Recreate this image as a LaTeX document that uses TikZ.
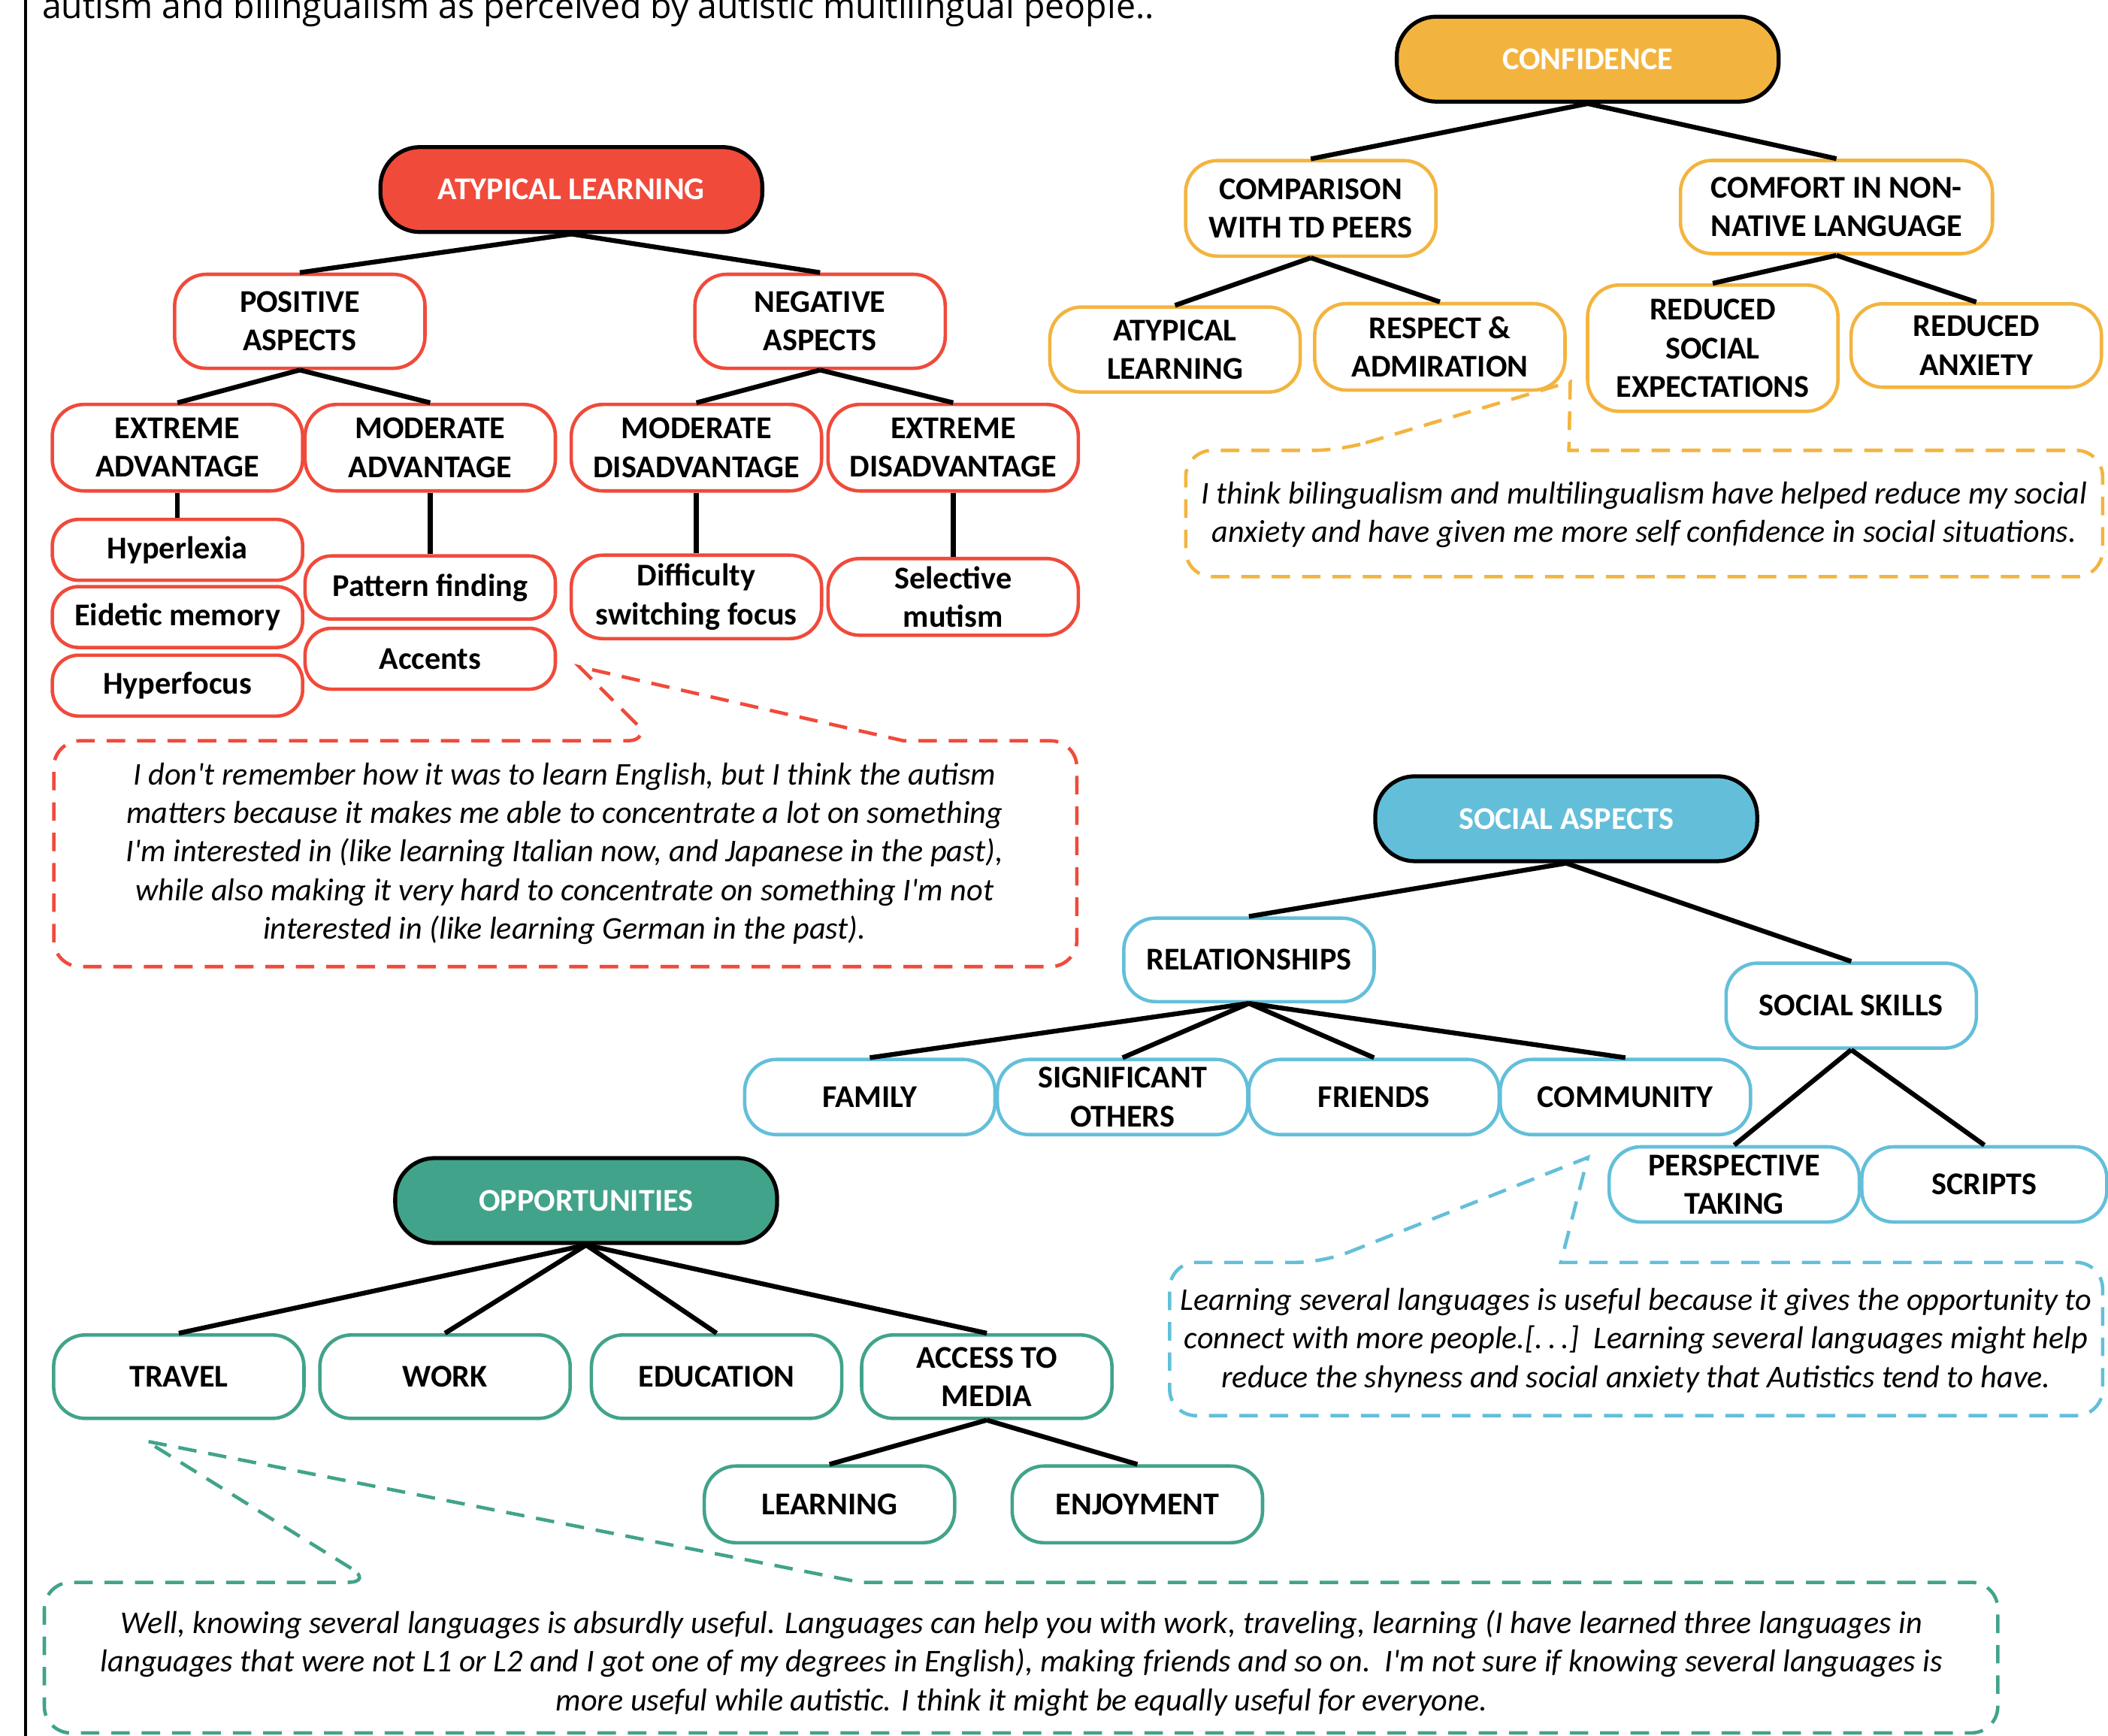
\documentclass[tikz,border=0pt]{standalone}
\usepackage{fontspec}
\setmainfont{Carlito}
\newfontfamily\titlefont{Open Sans}
\newfontfamily\quotefont{Carlito}
\usepackage{tikz}

\definecolor{alred}{RGB}{240,74,59}
\definecolor{cforange}{RGB}{243,180,63}
\definecolor{sablue}{RGB}{99,191,217}
\definecolor{opgreen}{RGB}{65,163,138}

\tikzset{
  root/.style={draw=black, line width=1.5pt, fill=#1, text=white, font=\fontsize{12}{14.6}\selectfont\bfseries,
    rounded corners=15pt, minimum width=5.08cm, minimum height=1.13cm, inner sep=0pt},
  leaf/.style={draw=#1, line width=1.3pt, fill=white, font=\fontsize{12}{14.6}\selectfont\bfseries, align=center,
    rounded corners=12pt, minimum width=3.33cm, minimum height=1.13cm, inner sep=0pt},
  small/.style={minimum height=0.81cm, rounded corners=10pt},
  link/.style={line width=1.8pt},
  quote/.style={font=\quotefont\fontsize{12}{14.6}\selectfont\itshape, align=center, inner sep=0pt},
  callout/.style={draw=#1, line width=1.3pt, dash pattern=on 7pt off 4.5pt}
}

\begin{document}
\begin{tikzpicture}[x=0.01789cm, y=-0.01789cm]
    \useasboundingbox (0,0) rectangle (1568,1291);

    \draw[line width=1.2pt] (19,-5) -- (19,1296);
    \node[anchor=base west, inner sep=0pt, font=\titlefont\fontsize{13.2}{15}\selectfont] (title) at (31,13.5)
        {autism and bilingualism as perceived by autistic multilingual people..};

    \node[root=alred] (al) at (425,141) {ATYPICAL LEARNING};
    \node[leaf=alred, minimum height=1.25cm] (alpos) at (223,239) {POSITIVE\\ASPECTS};
    \node[leaf=alred, minimum height=1.25cm] (alneg) at (610,239) {NEGATIVE\\ASPECTS};
    \node[leaf=alred, minimum height=1.15cm] (extadv) at (132,333) {EXTREME\\ADVANTAGE};
    \node[leaf=alred, minimum height=1.15cm] (modadv) at (320,333) {MODERATE\\ADVANTAGE};
    \node[leaf=alred, minimum height=1.15cm] (moddis) at (518,333) {MODERATE\\DISADVANTAGE};
    \node[leaf=alred, minimum height=1.15cm] (extdis) at (709,333) {EXTREME\\DISADVANTAGE};
    \node[leaf=alred, small] (hyperlexia) at (132,409) {Hyperlexia};
    \node[leaf=alred, small] (eidetic) at (132,459) {Eidetic memory};
    \node[leaf=alred, small] (hyperfocus) at (132,510) {Hyperfocus};
    \node[leaf=alred, small, minimum height=0.84cm] (pattern) at (320,437) {Pattern finding};
    \node[leaf=alred, small] (accents) at (320,490) {Accents};
    \node[leaf=alred, minimum height=1.11cm] (switching) at (518,444) {Difficulty\\switching focus};
    \node[leaf=alred, minimum height=1.02cm] (mutism) at (709,444) {Selective\\mutism};

    \draw[link] (al.south) -- (alpos.north);
    \draw[link] (al.south) -- (alneg.north);
    \draw[link] (alpos.south) -- (extadv.north);
    \draw[link] (alpos.south) -- (modadv.north);
    \draw[link] (alneg.south) -- (moddis.north);
    \draw[link] (alneg.south) -- (extdis.north);
    \draw[link] (extadv.south) -- (hyperlexia.north);
    \draw[link] (modadv.south) -- (pattern.north);
    \draw[link] (moddis.south) -- (switching.north);
    \draw[link] (extdis.south) -- (mutism.north);

    \coordinate (altip) at (431,496);
    \draw[callout=alred] (486,551) -- (altip) -- (672,551) [rounded corners=10pt] -- (801,551) -- (801,719) -- (40,719) -- (40,551) -- cycle;
    \node[quote] (alquote) at (420,635) {I don't remember how it was to learn English, but I think the autism\\
        matters because it makes me able to concentrate a lot on something\\
        I'm interested in (like learning Italian now, and Japanese in the past),\\
        while also making it very hard to concentrate on something I'm not\\
        interested in (like learning German in the past).};

    \node[root=cforange] (cf) at (1181,44) {CONFIDENCE};
    \node[leaf=cforange, minimum height=1.27cm] (cfpeers) at (975,155) {COMPARISON\\WITH TD PEERS};
    \node[leaf=cforange, minimum height=1.24cm, minimum width=4.15cm] (cfcomfort) at (1366,154) {COMFORT IN NON-\\NATIVE LANGUAGE};
    \node[leaf=cforange] (cfatyp) at (874,260) {ATYPICAL\\LEARNING};
    \node[leaf=cforange, minimum height=1.15cm] (cfrespect) at (1071,258) {RESPECT \&\\ADMIRATION};
    \node[leaf=cforange, minimum height=1.68cm] (cfsocial) at (1274,259) {REDUCED\\SOCIAL\\EXPECTATIONS};
    \node[leaf=cforange, minimum height=1.11cm] (cfanxiety) at (1470,257) {REDUCED\\ANXIETY};

    \draw[link] (cf.south) -- (cfpeers.north);
    \draw[link] (cf.south) -- (cfcomfort.north);
    \draw[link] (cfpeers.south) -- (cfatyp.north);
    \draw[link] (cfpeers.south) -- (cfrespect.north);
    \draw[link] (cfcomfort.south) -- (cfsocial.north);
    \draw[link] (cfcomfort.south) -- (cfanxiety.north);

    \coordinate (cftip) at (1168,284);
    \draw[callout=cforange] (997,335) -- (cftip) -- (1167,335) [rounded corners=10pt] -- (1564,335) -- (1564,429) -- (882,429) -- (882,335) -- cycle;
    \node[quote] (cfquote) at (1223,383) {I think bilingualism and multilingualism have helped reduce my social\\
        anxiety and have given me more self confidence in social situations.};

    \node[root=sablue] (sa) at (1165,609) {SOCIAL ASPECTS};
    \node[leaf=sablue, minimum height=1.11cm] (relations) at (929,714) {RELATIONSHIPS};
    \node[leaf=sablue] (skills) at (1377,748) {SOCIAL SKILLS};
    \node[leaf=sablue, minimum height=1cm] (family) at (647,816) {FAMILY};
    \node[leaf=sablue, minimum height=1cm] (others) at (835,816) {SIGNIFICANT\\OTHERS};
    \node[leaf=sablue, minimum height=1cm] (friends) at (1022,816) {FRIENDS};
    \node[leaf=sablue, minimum height=1cm] (community) at (1209,816) {COMMUNITY};
    \node[leaf=sablue, minimum height=1cm] (perspective) at (1290,881) {PERSPECTIVE\\TAKING};
    \node[leaf=sablue, minimum height=1cm, minimum width=3.26cm] (scripts) at (1476,881) {SCRIPTS};

    \draw[link] (sa.south) -- (relations.north);
    \draw[link] (sa.south) -- (skills.north);
    \draw[link] (relations.south) -- (family.north);
    \draw[link] (relations.south) -- (others.north);
    \draw[link] (relations.south) -- (friends.north);
    \draw[link] (relations.south) -- (community.north);
    \draw[link] (skills.south) -- (perspective.north);
    \draw[link] (skills.south) -- (scripts.north);

    \coordinate (satip) at (1181,861);
    \draw[callout=sablue] (984,939) -- (satip) -- (1161,939) [rounded corners=10pt] -- (1564,939) -- (1564,1053) -- (870,1053) -- (870,939) -- cycle;
    \node[quote] (saquote) at (1217,997) {Learning several languages is useful because it gives the opportunity to\\
        connect with more people.[.\,.\,.]\ \ Learning several languages might help\\
        reduce the shyness and social anxiety that Autistics tend to have.};

    \node[root=opgreen] (op) at (436,893) {OPPORTUNITIES};
    \node[leaf=opgreen, minimum height=1.11cm] (travel) at (133,1024) {TRAVEL};
    \node[leaf=opgreen, minimum height=1.11cm] (work) at (331,1024) {WORK};
    \node[leaf=opgreen, minimum height=1.11cm] (education) at (533,1024) {EDUCATION};
    \node[leaf=opgreen, minimum height=1.11cm] (media) at (734,1024) {ACCESS TO\\MEDIA};
    \node[leaf=opgreen, minimum height=1.02cm] (learning) at (617,1119) {LEARNING};
    \node[leaf=opgreen, minimum height=1.02cm] (enjoyment) at (846,1119) {ENJOYMENT};

    \draw[link] (op.south) -- (travel.north);
    \draw[link] (op.south) -- (work.north);
    \draw[link] (op.south) -- (education.north);
    \draw[link] (op.south) -- (media.north);
    \draw[link] (media.south) -- (learning.north);
    \draw[link] (media.south) -- (enjoyment.north);

    \coordinate (optip) at (109,1072);
    \draw[callout=opgreen] (278,1177) -- (optip) -- (640,1177) [rounded corners=10pt] -- (1486,1177) -- (1486,1289) -- (33,1289) -- (33,1177) -- cycle;
    \node[quote] (opquote) at (760,1237) {Well, knowing several languages is absurdly useful. Languages can help you with work, traveling, learning (I have learned three languages in\\
        languages that were not L1 or L2 and I got one of my degrees in English), making friends and so on.\ \ I'm not sure if knowing several languages is\\
        more useful while autistic. I think it might be equally useful for everyone.};
\end{tikzpicture}
\end{document}
